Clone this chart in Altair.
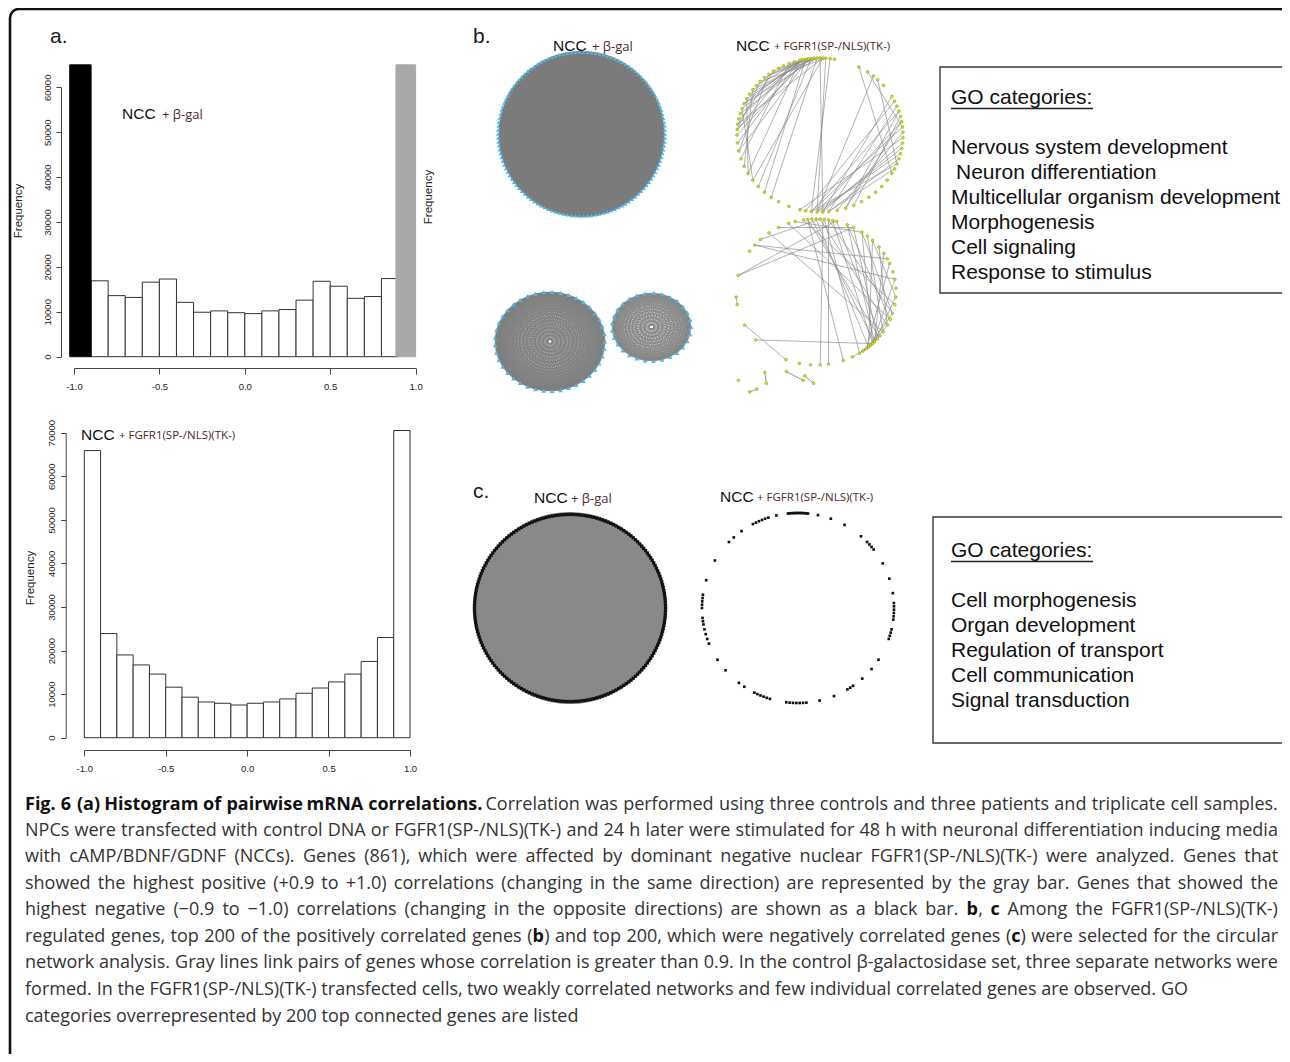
import itertools
import altair as alt
import pandas as pd

W, H = 1274, 1046
M = 8  # page margin: positions below are page pixels of the figure

# ---------------- histogram data (panel a) ----------------
bin_edges = [-1.0, -0.9, -0.8, -0.7, -0.6, -0.5, -0.4, -0.3, -0.2, -0.1, 0.0,
             0.1, 0.2, 0.3, 0.4, 0.5, 0.6, 0.7, 0.8, 0.9, 1.0]
beta_gal_counts = [65000, 16900, 13600, 13200, 16600, 17300, 12100, 9900, 10200, 9800,
                   9600, 10200, 10500, 12600, 16800, 15700, 13000, 13400, 17400, 65000]
fgfr1_counts = [65900, 23900, 19000, 16700, 14600, 11600, 9300, 8200, 7900, 7500,
                7900, 8200, 8900, 10200, 11400, 12800, 14600, 17500, 23000, 70500]
extreme_x0 = [-1.025, 0.885]
extreme_x1 = [-0.9, 1.0]
extreme_fill = ["#000000", "#a9a7a7"]
ticks_x = [-1.0, -0.5, 0.0, 0.5, 1.0]
ticks_top = [0, 10000, 20000, 30000, 40000, 50000, 60000]
ticks_bottom = [0, 10000, 20000, 30000, 40000, 50000, 60000, 70000]

# ---------------- network data (panels b, c) ----------------
bgal_big_n = 130
bgal_small1_n = 41
bgal_small2_n = 29

fg_up_nodes = [80, 83, 86, 88, 90, 92, 94, 96, 98, 100, 102, 104, 62, 55, 50, 46, 40,
               30, 26, 22, 18, 14, 10, 6, 2, -2, -6, -10, -14, -18, -22, -26, -30,
               -36, -42, -48, -54, -60, -66, -72, -78, -84, -88, -92, -96, -100, -104,
               -112, -120, -126, -132, -138, -144, -150, -156, -162, -168, -174,
               180, 176, 172, 168, 164, 160, 156, 152, 148, 144, 140, 136, 132, 128,
               124, 120, 116, 112, 108]
fg_up_edges = [(100, 152), (102, 160), (104, 168), (98, 176), (96, 164), (94, 144), (92, 156),
               (100, 180), (88, 172), (102, 140), (104, -174), (98, -168), (96, 148), (86, 136),
               (90, 128), (94, 124), (100, 132), (104, 156), (108, 176), (112, -162),
               (100, -132), (96, -138), (92, -126), (88, -144), (104, -150),
               (128, -168), (136, 176), (144, -156), (152, -150), (124, 172), (160, -144),
               (86, -92), (83, -96), (90, -88),
               (30, -88), (22, -84), (10, -92), (2, -78), (-10, -90), (26, -100), (18, -72),
               (6, -96), (-18, -84), (14, -66), (-2, -104), (-6, -88), (-14, -92), (-22, -96),
               (-26, -84), (10, -72), (18, -96),
               (62, -30), (55, 6), (46, -22), (50, -92), (104, 112), (98, 120)]

fg_lo_nodes = [75, 78, 81, 84, 87, 90, 93, 96, 99, 105, 110, 118, 126, 134, 140, 146, 167,
               -176, -170, -153, -139, -112, -102, -94, -87, -81, 67, 62, 55, 50, 45, 38,
               32, 27, 23, 16, 10, 3, -4, -10, -17, -22, -27, -33, -37, -40, -43, -45, -47,
               -49, -51, -54, -57, -63, -70]
fg_lo_edges = [(167, 76), (167, 62), (140, 27), (140, 10), (134, 87), (126, -33), (118, 62),
               (110, -22), (105, 55), (99, -10), (96, -38), (93, -43), (90, -49), (87, -27),
               (84, -57), (81, -17), (78, -45), (75, -37), (67, -43), (67, -22), (55, -45),
               (55, -17), (45, -49), (45, -4), (32, -43), (23, -51), (10, -45), (-4, -43),
               (-17, -49), (-27, -45), (-37, -51), (-43, -57), (-45, -54), (-47, -54),
               (-40, -57), (-51, -63), (-139, -45), (-153, -112), (-170, -176), (85, -87),
               (81, -81), (96, -70), (62, -40), (50, -33), (38, -27)]
fg_loose_x = [-0.97, -0.64, -0.62, -0.83, -0.74, -0.37, -0.16, -0.14, -0.03]
fg_loose_y = [-1.21, -1.10, -1.25, -1.37, -1.33, -1.09, -1.21, -1.15, -1.25]
fg_loose_pairs = [(1, 2), (3, 4), (5, 6), (7, 8)]

neg_bgal_n = 200
neg_fg_angles = [84, 85, 86, 87, 88, 89, 90, 91, 92, 93, 94, 95, 96, 103, 108, 110, 112, 114,
                 116, 118, 126, 132, 136, 150, 163, 172, 174, 176, 178, 180, -174, -172, -170,
                 -167, -164, -161, -158, -147, -139, -128, -124, -117, -115, -113, -111, -109,
                 -107, -97, -95, -93, -91, -89, -87, -85, -77, -68, -59, -57, -55, -48, -40,
                 -33, -19, -17, -15, -13, -7, -5, -3, -1, 1, 3, 9, 18, 28, 38, 40, 42, 44, 49,
                 61, 70, 78]

go_b = ["Nervous system development", "Neuron differentiation",
        "Multicellular organism development", "Morphogenesis", "Cell signaling",
        "Response to stimulus"]
go_c = ["Cell morphogenesis", "Organ development", "Regulation of transport",
        "Cell communication", "Signal transduction"]

# caption: **...** marks bold runs; second item says whether the line is justified
caption_lines = [
    ("**Fig. 6 (a) Histogram of pairwise mRNA correlations.** Correlation was performed using three controls and three patients and triplicate cell samples.", True),
    ("NPCs were transfected with control DNA or FGFR1(SP-/NLS)(TK-) and 24 h later were stimulated for 48 h with neuronal differentiation inducing media", True),
    ("with cAMP/BDNF/GDNF (NCCs). Genes (861), which were affected by dominant negative nuclear FGFR1(SP-/NLS)(TK-) were analyzed. Genes that", True),
    ("showed the highest positive (+0.9 to +1.0) correlations (changing in the same direction) are represented by the gray bar. Genes that showed the", True),
    ("highest negative (\u22120.9 to \u22121.0) correlations (changing in the opposite directions) are shown as a black bar. **b**, **c** Among the FGFR1(SP-/NLS)(TK-)", True),
    ("regulated genes, top 200 of the positively correlated genes (**b**) and top 200, which were negatively correlated genes (**c**) were selected for the circular", True),
    ("network analysis. Gray lines link pairs of genes whose correlation is greater than 0.9. In the control \u03b2-galactosidase set, three separate networks were", True),
    ("formed. In the FGFR1(SP-/NLS)(TK-) transfected cells, two weakly correlated networks and few individual correlated genes are observed. GO", False),
    ("categories overrepresented by 200 top connected genes are listed", False),
]
caption_y = [805, 831, 857, 884, 910, 937, 963, 990, 1017]

# ---------------- text measuring (Open Sans advance widths, units of 1/2048 em) ----------------
_OS = {' ': 532, '(': 606, ')': 606, ',': 502, '-': 659, '.': 545, '/': 752, ':': 545, '+': 1171,
       '\u2212': 1171, '\u03b2': 1255,
       'A': 1296, 'B': 1327, 'C': 1292, 'D': 1493, 'E': 1139, 'F': 1057, 'G': 1491, 'H': 1511,
       'I': 571, 'K': 1257, 'L': 1063, 'M': 1849, 'N': 1544, 'O': 1595, 'P': 1233, 'R': 1266,
       'S': 1124, 'T': 1133,
       'a': 1139, 'b': 1255, 'c': 975, 'd': 1255, 'e': 1149, 'f': 694, 'g': 1122, 'h': 1257,
       'i': 518, 'j': 518, 'k': 1075, 'l': 518, 'm': 1905, 'n': 1257, 'o': 1237, 'p': 1255,
       'q': 1255, 'r': 836, 's': 977, 't': 723, 'u': 1257, 'v': 1026, 'w': 1593, 'x': 1073,
       'y': 1028, 'z': 977}
for _d in "0123456789":
    _OS[_d] = 1171

CAP_SIZE = 18.0
CAP_LEFT, CAP_RIGHT = 25, 1278


def text_width(s, size, bold=False):
    return sum(_OS.get(ch, 1139) for ch in s) / 2048.0 * size * (1.066 if bold else 1.0)


def layout_caption():
    normal, bold = [], []
    for (line, justify), y in zip(caption_lines, caption_y):
        chars = []
        for k, part in enumerate(line.split("**")):
            chars += [(ch, k % 2 == 1) for ch in part]
        words, cur = [], []
        for ch, b in chars:
            if ch == " ":
                if cur:
                    words.append(cur)
                cur = []
            else:
                cur.append((ch, b))
        if cur:
            words.append(cur)
        runs_per_word = []
        for wd in words:
            runs = []
            for ch, b in wd:
                if runs and runs[-1][1] == b:
                    runs[-1][0] += ch
                else:
                    runs.append([ch, b])
            runs_per_word.append(runs)
        widths = [sum(text_width(t, CAP_SIZE, b) for t, b in r) for r in runs_per_word]
        if justify and len(widths) > 1:
            gap = (CAP_RIGHT - CAP_LEFT - sum(widths)) / (len(widths) - 1)
        else:
            gap = text_width(" ", CAP_SIZE)
        x = CAP_LEFT
        for runs, wdt in zip(runs_per_word, widths):
            for t, b in runs:
                (bold if b else normal).append((x, y, t))
                x += text_width(t, CAP_SIZE, b)
            x += gap
    return normal, bold


# ---------------- helpers ----------------
def CX():
    return alt.Scale(domain=[M, M + W], range=[0, W], nice=False, zero=False)


def CY():
    return alt.Scale(domain=[M, M + H], range=[0, H], nice=False, zero=False)


def text_layer(rows, **kw):
    df = pd.DataFrame(rows, columns=["x", "y", "t"])
    return alt.Chart(df).mark_text(**kw).encode(
        x=alt.X("x:Q", scale=CX(), axis=None),
        y=alt.Y("y:Q", scale=CY(), axis=None),
        text="t:N")


def net_scales(cx, cy, rx, ry):
    xs = alt.Scale(domain=[-1, 1], range=[cx - rx - M, cx + rx - M], nice=False, zero=False)
    ys = alt.Scale(domain=[-1, 1], range=[cy + ry - M, cy - ry - M], nice=False, zero=False)
    return xs, ys


def nodes(angles, box, r=1.0, **kw):
    xs, ys = net_scales(*box)
    df = pd.DataFrame({"a": angles})
    return alt.Chart(df).transform_calculate(
        ux=f"{r}*cos(datum.a*PI/180)", uy=f"{r}*sin(datum.a*PI/180)"
    ).mark_point(**kw).encode(x=alt.X("ux:Q", scale=xs, axis=None),
                              y=alt.Y("uy:Q", scale=ys, axis=None))


def edges(pairs, box, **kw):
    xs, ys = net_scales(*box)
    df = pd.DataFrame(pairs, columns=["a1", "a2"])
    return alt.Chart(df).transform_calculate(
        x1="cos(datum.a1*PI/180)", y1="sin(datum.a1*PI/180)",
        x2="cos(datum.a2*PI/180)", y2="sin(datum.a2*PI/180)"
    ).mark_rule(**kw).encode(x=alt.X("x1:Q", scale=xs, axis=None),
                             y=alt.Y("y1:Q", scale=ys, axis=None),
                             x2="x2:Q", y2="y2:Q")


def disk(box, size, color, **kw):
    xs, ys = net_scales(*box)
    df = pd.DataFrame({"ux": [0.0], "uy": [0.0]})
    return alt.Chart(df).mark_point(shape="circle", filled=True, size=size, color=color,
                                    opacity=1, **kw).encode(
        x=alt.X("ux:Q", scale=xs, axis=None), y=alt.Y("uy:Q", scale=ys, axis=None))


def complete_graph(n):
    ang = [i * 360.0 / n for i in range(n)]
    return ang, list(itertools.combinations(ang, 2))


AX = dict(grid=False, title=None, domainColor="#444", tickColor="#444", labelColor="#222",
          labelFont="Liberation Sans", labelFontSize=9.5, labelOverlap=False,
          labelBound=False, domainWidth=1, tickWidth=1)


def hist(counts, xr, yr, ymax, yticks, xaxis_y, yaxis_x, extremes):
    rows = []
    for i in range(20):
        if extremes and i in (0, 19):
            continue
        rows.append(dict(x0=bin_edges[i], x1=bin_edges[i + 1], n=counts[i],
                         fill="white", stroke="#333333"))
    if extremes:
        for j, i in enumerate((0, 19)):
            rows.append(dict(x0=extreme_x0[j], x1=extreme_x1[j], n=counts[i],
                             fill=extreme_fill[j], stroke=extreme_fill[j]))
    df = pd.DataFrame(rows)
    xs = alt.Scale(domain=[-1, 1], range=[xr[0] - M, xr[1] - M], nice=False, zero=False)
    ys = alt.Scale(domain=[0, ymax], range=[yr[0] - M, yr[1] - M], nice=False, zero=False)
    return alt.Chart(df).transform_calculate(base="0").mark_rect(strokeWidth=1).encode(
        x=alt.X("x0:Q", scale=xs,
                axis=alt.Axis(orient="bottom", offset=(xaxis_y - M) - H, values=ticks_x,
                              format=".1f", labelExpr="replace(datum.label, '\u2212', '-')",
                              tickSize=6, labelPadding=7, labelFlush=False, **AX)),
        x2="x1:Q",
        y=alt.Y("n:Q", scale=ys,
                axis=alt.Axis(orient="left", offset=-(yaxis_x - M), values=yticks, format="d",
                              labelAngle=270, labelAlign="center", labelBaseline="bottom",
                              tickSize=5, labelPadding=4, labelFlush=False, **AX)),
        y2="base:Q",
        fill=alt.Fill("fill:N", scale=None),
        stroke=alt.Stroke("stroke:N", scale=None))


layers = []

# figure frame
layers.append(alt.Chart(pd.DataFrame({"x": [10], "x2": [1289], "y": [9], "y2": [1090]})).mark_rect(
    fillOpacity=0, stroke="#111111", strokeWidth=2.6, cornerRadius=9).encode(
    x=alt.X("x:Q", scale=CX(), axis=None), x2="x2:Q",
    y=alt.Y("y:Q", scale=CY(), axis=None), y2="y2:Q"))

# GO boxes
layers.append(alt.Chart(pd.DataFrame({"x": [940, 933], "x2": [1300, 1300], "y": [67, 517],
                                      "y2": [293, 743]})).mark_rect(
    fillOpacity=0, stroke="#3a3a3a", strokeWidth=1.4).encode(
    x=alt.X("x:Q", scale=CX(), axis=None), x2="x2:Q",
    y=alt.Y("y:Q", scale=CY(), axis=None), y2="y2:Q"))
layers.append(alt.Chart(pd.DataFrame({"x": [951, 951], "x2": [1093, 1093], "y": [108.5, 561.5]})).mark_rule(
    stroke="#222", strokeWidth=1.3).encode(
    x=alt.X("x:Q", scale=CX(), axis=None), x2="x2:Q", y=alt.Y("y:Q", scale=CY(), axis=None)))

# histograms
layers.append(hist(beta_gal_counts, (74, 415.6), (356.7, 87.3), 60000, ticks_top, 368, 61, True))
layers.append(hist(fgfr1_counts, (84.3, 410), (737.7, 432.7), 70000, ticks_bottom, 750, 65.7, False))

# panel b, beta-gal networks
BIG = (581.5, 134, 83.5, 82)
SM1 = (550, 341.5, 55, 49.5)
SM2 = (651.5, 327, 39.5, 34)
BLUE = "#4fb8e8"
layers.append(disk(BIG, 166 ** 2, "#7b7b7b"))
layers.append(nodes([i * 360.0 / bgal_big_n for i in range(bgal_big_n)], BIG,
                    shape="triangle-up", filled=True, size=16, color=BLUE, opacity=1))
for box, n in ((SM1, bgal_small1_n), (SM2, bgal_small2_n)):
    ang, pairs = complete_graph(n)
    layers.append(edges(pairs, box, stroke="#7d7d7d", strokeWidth=0.5, opacity=0.85))
    layers.append(nodes(ang, box, shape="triangle-up", filled=True, size=22, color=BLUE, opacity=1))

# panel b, FGFR1 networks
UP = (820, 135, 83, 77)
LO = (816, 292, 80, 73)
layers.append(edges(fg_up_edges, UP, stroke="#8a8a8a", strokeWidth=0.9, opacity=0.75))
layers.append(edges(fg_lo_edges, LO, stroke="#8a8a8a", strokeWidth=0.9, opacity=0.75))
xs_lo, ys_lo = net_scales(*LO)
loose_df = pd.DataFrame({"x1": [fg_loose_x[a] for a, b in fg_loose_pairs],
                         "y1": [fg_loose_y[a] for a, b in fg_loose_pairs],
                         "x2": [fg_loose_x[b] for a, b in fg_loose_pairs],
                         "y2": [fg_loose_y[b] for a, b in fg_loose_pairs]})
layers.append(alt.Chart(loose_df).mark_rule(stroke="#8a8a8a", strokeWidth=0.9).encode(
    x=alt.X("x1:Q", scale=xs_lo, axis=None), y=alt.Y("y1:Q", scale=ys_lo, axis=None),
    x2="x2:Q", y2="y2:Q"))
YEL = dict(shape="circle", filled=True, size=8, color="#d6e010", opacity=1,
           stroke="#7a7a18", strokeWidth=0.4)
layers.append(nodes(fg_up_nodes, UP, **YEL))
layers.append(nodes(fg_lo_nodes, LO, **YEL))
xs_lo2, ys_lo2 = net_scales(*LO)
layers.append(alt.Chart(pd.DataFrame({"ux": fg_loose_x, "uy": fg_loose_y})).mark_point(**YEL).encode(
    x=alt.X("ux:Q", scale=xs_lo2, axis=None), y=alt.Y("uy:Q", scale=ys_lo2, axis=None)))

# panel c networks
CB = (570, 608, 97, 95)
CF = (798, 608, 96, 95)
layers.append(disk(CB, 192 ** 2, "#898989"))
layers.append(nodes([i * 360.0 / neg_bgal_n for i in range(neg_bgal_n)], CB, r=0.985,
                    shape="square", filled=True, size=11, color="#111111", opacity=1))
layers.append(nodes(neg_fg_angles, CF, shape="square", filled=True, size=7,
                    color="#111111", opacity=1))

# texts
SANS = "Liberation Sans"
layers.append(text_layer([(50, 37, "a."), (473, 37, "b."), (473, 492, "c.")],
                         font=SANS, fontSize=21, align="left", baseline="middle", color="#1a1a1a"))
layers.append(text_layer([(122, 114, "NCC"), (81, 435, "NCC"), (553, 46, "NCC"), (736, 46, "NCC"),
                          (534, 498, "NCC"), (720, 497, "NCC")],
                         font=SANS, fontSize=15.5, align="left", baseline="middle", color="#111"))
layers.append(text_layer([(162, 115, "+ \u03b2-gal"), (592, 47, "+ \u03b2-gal"), (571, 499, "+ \u03b2-gal")],
                         font="Open Sans", fontSize=13, align="left", baseline="middle", color="#4a2a2a"))
layers.append(text_layer([(119, 436, "+ FGFR1(SP-/NLS)(TK-)"), (774, 47, "+ FGFR1(SP-/NLS)(TK-)"),
                          (757, 498, "+ FGFR1(SP-/NLS)(TK-)")],
                         font="Open Sans", fontSize=11.5, align="left", baseline="middle", color="#4a2a2a"))
layers.append(text_layer([(19, 211, "Frequency"), (429, 197, "Frequency"), (31, 578, "Frequency")],
                         font=SANS, fontSize=11.5, align="center", baseline="middle", angle=270,
                         color="#222"))
go_rows = [(951, 98, "GO categories:"), (951, 551, "GO categories:")]
go_rows += [(956 if t.startswith("Neuron") else 951, 148 + 25 * i, t) for i, t in enumerate(go_b)]
go_rows += [(951, 601 + 25 * i, t) for i, t in enumerate(go_c)]
layers.append(text_layer(go_rows, font=SANS, fontSize=21, align="left", baseline="middle",
                         color="#111"))

cap_n, cap_b = layout_caption()
layers.append(text_layer(cap_n, font="Open Sans", fontSize=CAP_SIZE, align="left",
                         baseline="middle", color="#333333"))
layers.append(text_layer(cap_b, font="Open Sans", fontSize=CAP_SIZE, fontWeight="bold",
                         align="left", baseline="middle", color="#111111"))

chart = alt.layer(*layers).resolve_scale(x="independent", y="independent").properties(
    width=W, height=H, autosize=alt.AutoSizeParams(type="none"), padding=0
).configure_view(stroke=None).configure_axis(grid=False)

chart.save("out.html", embed_options={"renderer": "svg", "actions": False})
